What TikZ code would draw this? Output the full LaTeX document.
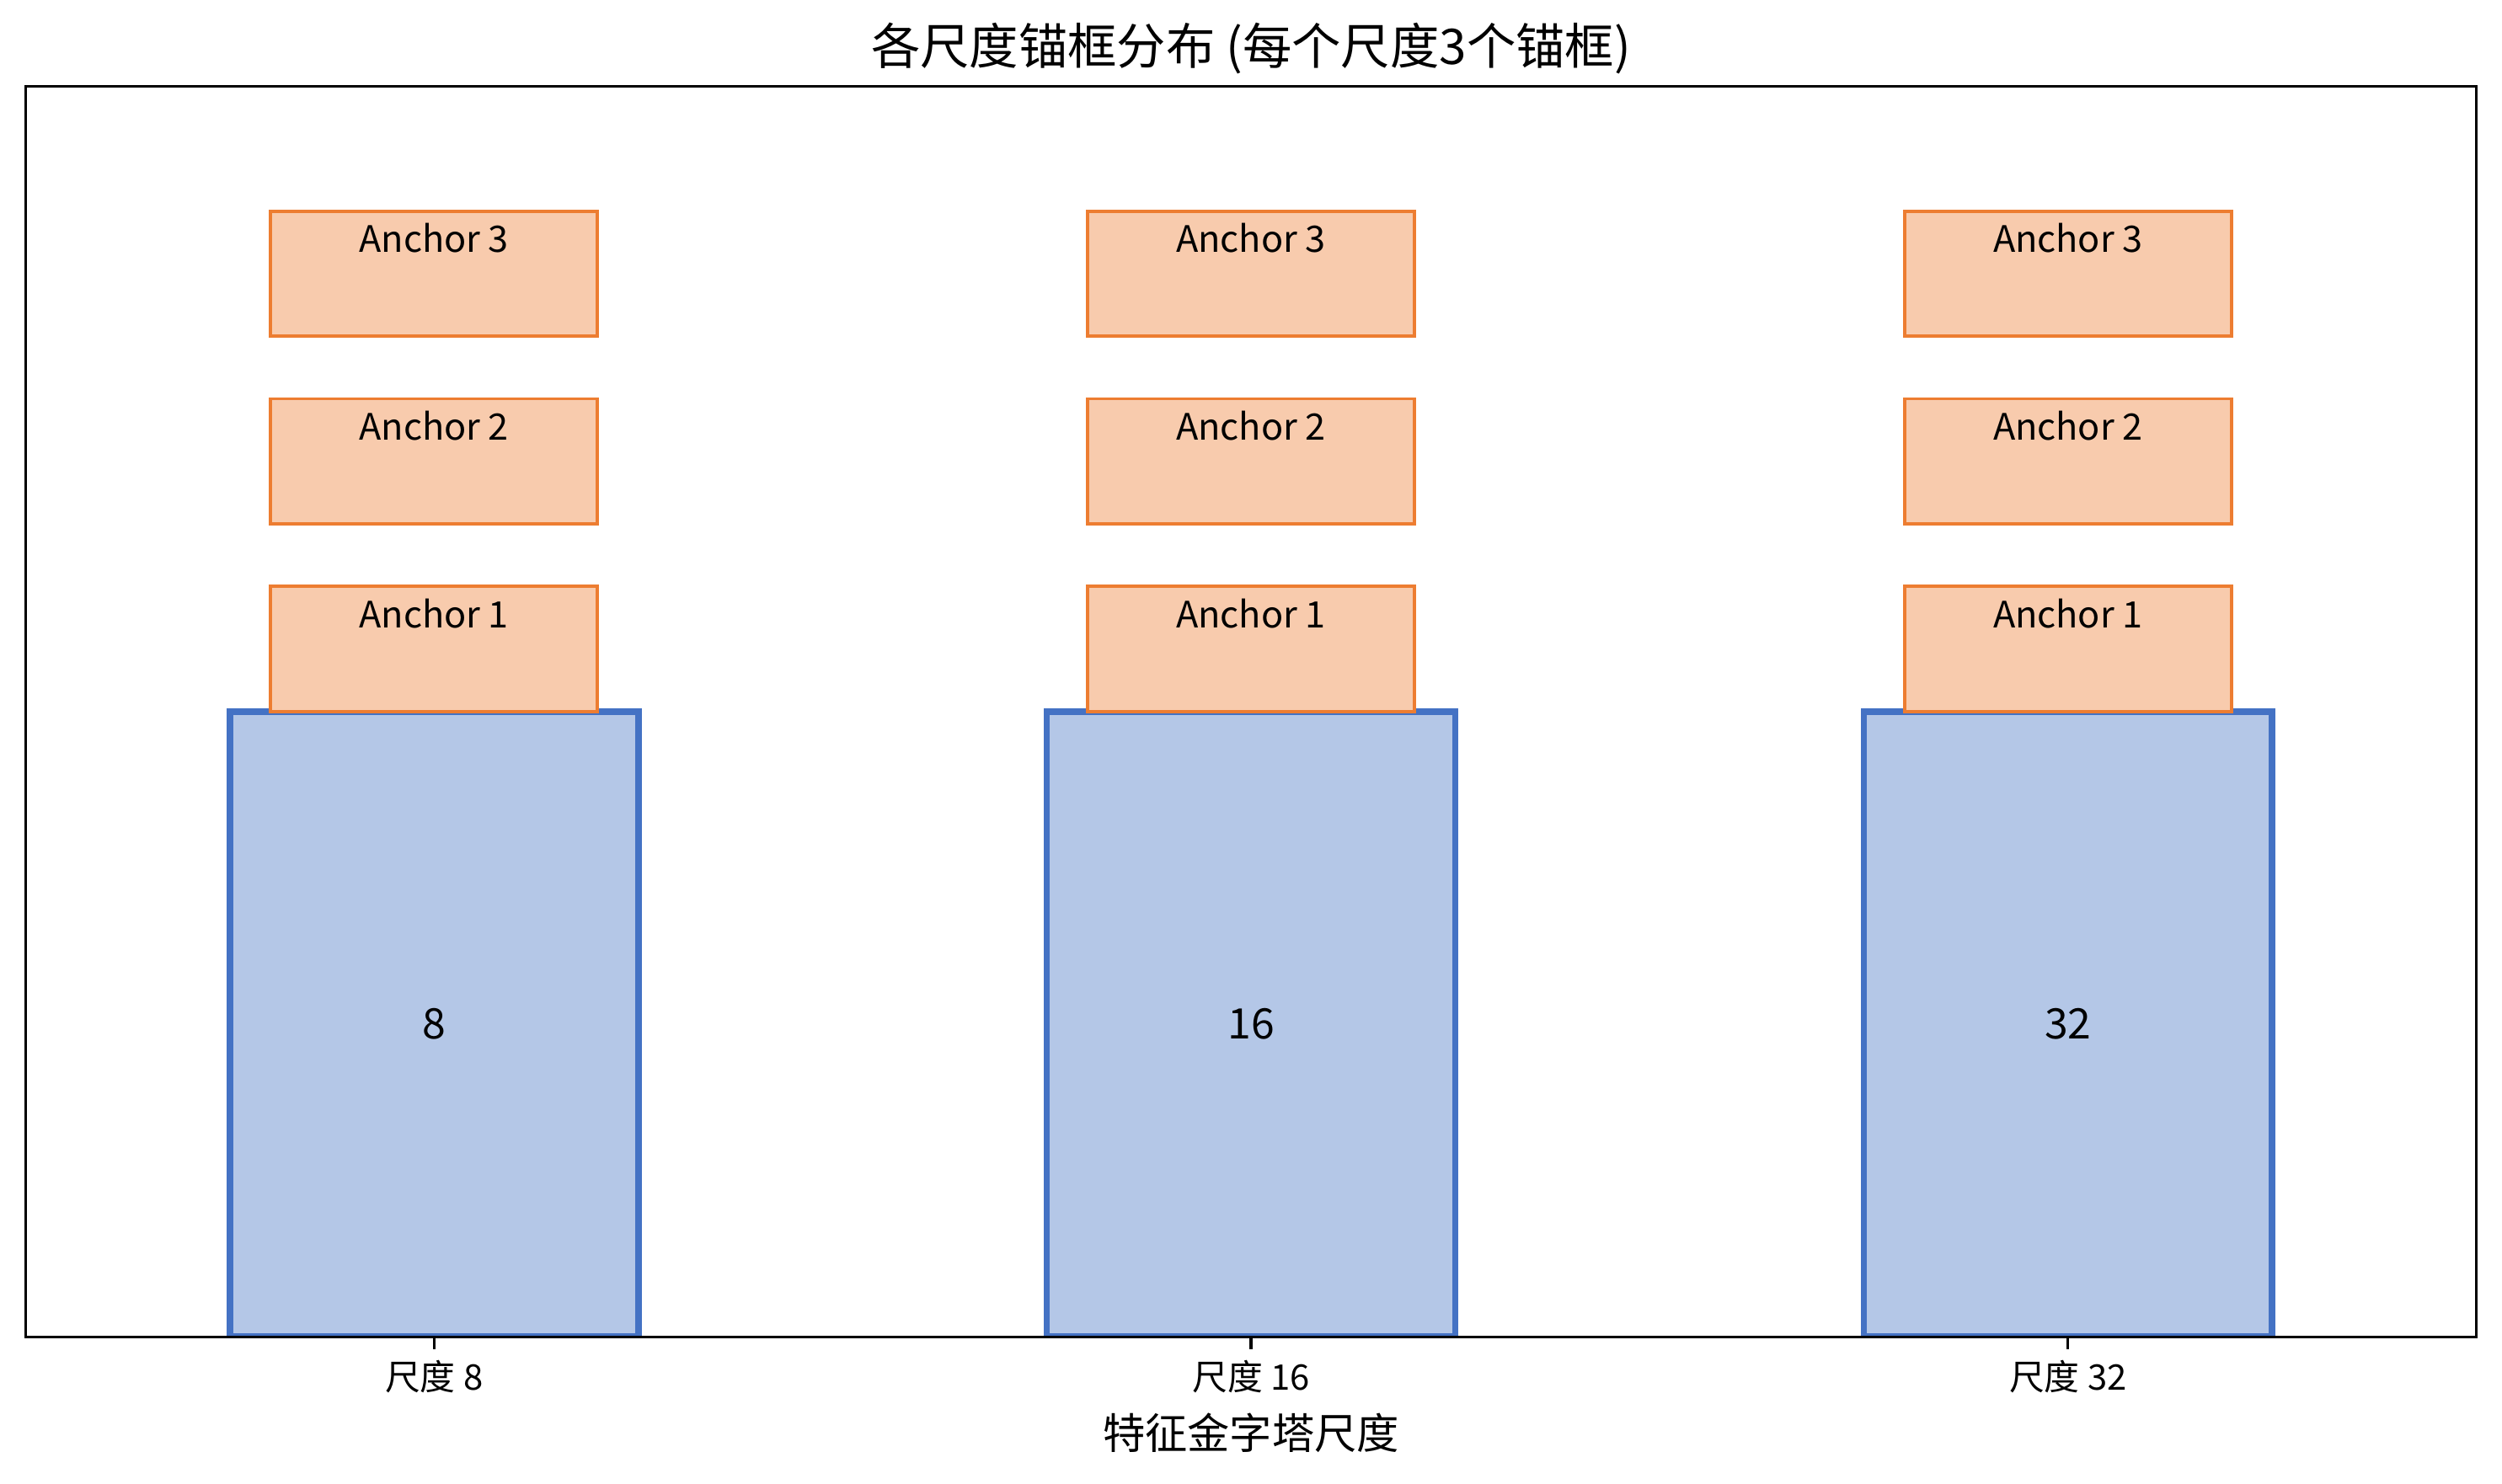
\documentclass[tikz,border=0pt]{standalone}
\usepackage{fontspec}
\setmainfont{Noto Sans CJK SC}
\usepackage{xcolor}
\usepackage{tikz}
\usetikzlibrary{calc}
\definecolor{barfill}{HTML}{B4C7E7}
\definecolor{baredge}{HTML}{4472C4}
\definecolor{ancfill}{HTML}{F8CBAD}
\definecolor{ancedge}{HTML}{ED7D31}

\begin{document}
\begin{tikzpicture}[x=9.698cm, y=7.425cm,
    barbox/.style={fill=barfill, draw=baredge, line width=2.2pt},
    ancbox/.style={fill=ancfill, draw=ancedge, line width=1.1pt},
    anctext/.style={font=\fontsize{12.3}{14}\selectfont, inner sep=0pt},
    valtext/.style={font=\fontsize{14.2}{17}\selectfont, inner sep=0pt},
    ticktext/.style={font=\fontsize{11.9}{14}\selectfont, inner sep=0pt},
    bigtext/.style={font=\fontsize{16.6}{20}\selectfont, inner sep=0pt},
    tickmark/.style={line width=0.95pt}]
\useasboundingbox (-5.152cm,-1.747cm) rectangle (24.548cm,15.873cm);

% feature map bars
\begin{scope}
    \clip (-0.5,0) rectangle (2.5,2);
    \draw[barbox] (-0.25,0) rectangle (0.25,1);
    \draw[barbox] (0.75,0) rectangle (1.25,1);
    \draw[barbox] (1.75,0) rectangle (2.25,1);
\end{scope}
\node[valtext] (v8) at (0,0.5) {8};
\node[valtext] (v16) at (1,0.5) {16};
\node[valtext] (v32) at (2,0.5) {32};

% anchor boxes
\begin{scope}
    \draw[ancbox] (-0.2,1.0) rectangle (0.2,1.2);
    \draw[ancbox] (-0.2,1.3) rectangle (0.2,1.5);
    \draw[ancbox] (-0.2,1.6) rectangle (0.2,1.8);
    \draw[ancbox] (0.8,1.0) rectangle (1.2,1.2);
    \draw[ancbox] (0.8,1.3) rectangle (1.2,1.5);
    \draw[ancbox] (0.8,1.6) rectangle (1.2,1.8);
    \draw[ancbox] (1.8,1.0) rectangle (2.2,1.2);
    \draw[ancbox] (1.8,1.3) rectangle (2.2,1.5);
    \draw[ancbox] (1.8,1.6) rectangle (2.2,1.8);
\end{scope}

\begin{scope}[every node/.style={anctext, yshift=0.5mm}]
    \node (a8-1) at (0,1.15) {Anchor 1};
    \node (a8-2) at (0,1.45) {Anchor 2};
    \node (a8-3) at (0,1.75) {Anchor 3};
    \node (a16-1) at (1,1.15) {Anchor 1};
    \node (a16-2) at (1,1.45) {Anchor 2};
    \node (a16-3) at (1,1.75) {Anchor 3};
    \node (a32-1) at (2,1.15) {Anchor 1};
    \node (a32-2) at (2,1.45) {Anchor 2};
    \node (a32-3) at (2,1.75) {Anchor 3};
\end{scope}

% axes
\draw[line width=0.95pt] (-0.5,0) rectangle (2.5,2);
\coordinate (k8) at (0,0);
\coordinate (k16) at (1,0);
\coordinate (k32) at (2,0);
\draw[tickmark] (k8) -- ++(0,-4.15pt);
\draw[tickmark] (k16) -- ++(0,-4.15pt);
\draw[tickmark] (k32) -- ++(0,-4.15pt);
\node[ticktext, yshift=-4.73mm] (t8) at (k8) {尺度 8};
\node[ticktext, yshift=-4.73mm] (t16) at (k16) {尺度 16};
\node[ticktext, yshift=-4.73mm] (t32) at (k32) {尺度 32};
\node[bigtext, font=\fontsize{14.3}{17}\selectfont, yshift=-11.37mm] (xlab) at (k16) {特征金字塔尺度};
\node[bigtext, yshift=4.5mm] (title) at (1,2) {各尺度锚框分布 (每个尺度3个锚框)};
\end{tikzpicture}
\end{document}
